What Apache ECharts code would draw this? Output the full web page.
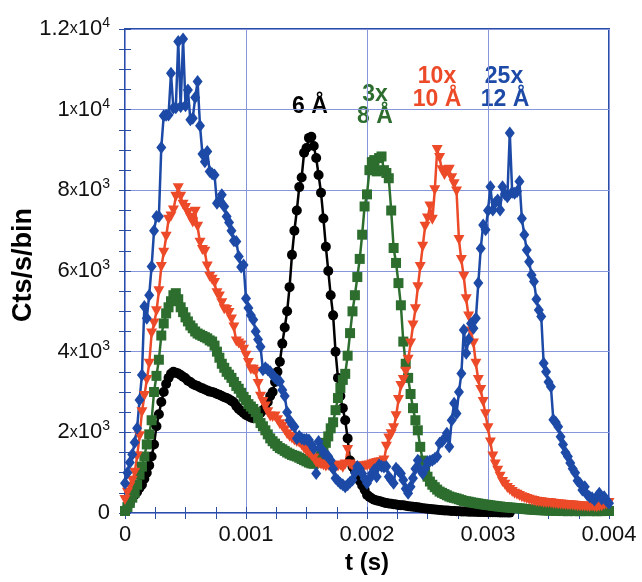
<!DOCTYPE html>
<html><head><meta charset="utf-8">
<script src="https://cdn.jsdelivr.net/npm/echarts@6/dist/echarts.min.js"></script>
<style>html,body{margin:0;padding:0;background:#fff}#c{width:642px;height:582px}</style>
</head><body><div id="c"></div>
<script>
// bin start times in microseconds
const T_US = [
0,20,40,60,80,100,120,140,160,180,
200,220,240,260,280,300,320,340,360,380,
400,420,440,460,480,500,520,540,560,580,
600,620,640,660,680,700,720,740,760,780,
800,820,840,860,880,900,920,940,960,980,
1000,1020,1040,1060,1080,1100,1120,1140,1160,1180,
1200,1220,1240,1260,1280,1300,1320,1340,1360,1380,
1400,1420,1440,1460,1480,1500,1520,1540,1560,1580,
1600,1620,1640,1660,1680,1700,1720,1740,1760,1780,
1800,1820,1840,1860,1880,1900,1920,1940,1960,1980,
2000,2020,2040,2060,2080,2100,2120,2140,2160,2180,
2200,2220,2240,2260,2280,2300,2320,2340,2360,2380,
2400,2420,2440,2460,2480,2500,2520,2540,2560,2580,
2600,2620,2640,2660,2680,2700,2720,2740,2760,2780,
2800,2820,2840,2860,2880,2900,2920,2940,2960,2980,
3000,3020,3040,3060,3080,3100,3120,3140,3160,3180,
3200,3220,3240,3260,3280,3300,3320,3340,3360,3380,
3400,3420,3440,3460,3480,3500,3520,3540,3560,3580,
3600,3620,3640,3660,3680,3700,3720,3740,3760,3780,
3800,3820,3840,3860,3880,3900,3920,3940,3960,3980,
4000];

// 6 Å (black)
const black6 = [
50,150,250,380,450,520,620,700,850,1000,
1180,1400,1700,2150,2450,2750,3000,3200,3350,3450,
3500,3480,3460,3420,3380,3340,3280,3250,3200,3170,
3150,3110,3090,3060,3040,3010,3000,2980,2950,2930,
2900,2870,2850,2820,2780,2740,2650,2580,2530,2480,
2430,2400,2370,2350,2380,2420,2480,2550,2600,2750,
2900,3000,3250,3500,3750,4200,4600,5000,5600,6400,
7000,7500,8080,8320,8930,9050,9300,9330,9100,8800,
8380,7940,7300,6600,6000,5400,4900,4000,3350,2900,
2600,2300,1850,1300,1150,1050,950,800,680,580,
450,400,360,330,310,300,280,260,245,235,
230,220,210,200,195,190,180,170,160,155,
150,140,130,120,110,105,100,90,85,80,
75,70,65,60,55,50,48,45,42,40,
38,36,34,32,30,28,26,25,24,22,
20,19,18,17,16,15,14,13,12,10];

// 3x 8 Å (green)
const green8 = [
50,150,250,380,500,700,950,1150,1400,1700,
1950,2300,3000,3400,3800,4400,4700,4950,5100,5250,
5400,5450,5300,5100,4980,4850,4750,4650,4580,4500,
4450,4420,4390,4360,4330,4280,4250,4150,4000,3850,
3700,3600,3500,3430,3350,3250,3150,3080,2980,2880,
2800,2700,2640,2580,2500,2350,2230,2150,2050,1950,
1850,1780,1720,1660,1610,1580,1540,1500,1470,1440,
1420,1400,1370,1340,1310,1280,1250,1230,1220,1250,
1300,1400,1550,1740,1900,2100,2250,2550,2850,3100,
3300,3450,3900,4460,5000,5400,5850,6300,6900,7600,
7900,8500,8700,8750,8470,8800,8840,8500,8430,8300,
7500,6570,6200,5700,5150,4250,3700,3350,2950,2600,
2300,2050,1640,1300,1050,900,780,700,640,580,
530,500,470,440,410,390,375,360,340,320,
300,290,280,265,255,245,235,225,215,205,
200,190,180,175,165,160,150,145,140,135,
130,125,120,115,110,100,95,90,85,80,
75,72,70,68,65,62,60,58,55,52,
50,48,55,45,50,52,47,50,45,52,
48,50,46,50,48,45,50,47,50,52,
50];

// 10x 10 Å (red)
const red10 = [
320,500,650,800,1000,1400,1900,2500,2900,3300,
3700,4450,4700,5000,5500,6100,6450,6850,7270,7350,
7500,7840,8050,7840,7640,7560,7440,7320,7200,7470,
7100,6700,6520,6480,6110,5860,5780,5700,5450,5370,
5200,5050,5030,4960,4800,4600,4250,4200,4150,4050,
3900,3720,3560,3550,3500,3200,2880,2750,2640,2500,
2390,2380,2390,2300,2200,2140,2050,1950,1890,1850,
1800,1760,1740,1680,1600,1530,1480,1420,1350,1250,
1220,1200,1180,1150,1170,1140,1160,1130,1150,1180,
1120,1200,1560,1200,1150,1100,1140,1160,1120,1150,
1170,1180,1200,1220,1240,1250,1260,1300,1640,1850,
1950,2100,2400,2800,3150,3300,3500,3800,4200,4650,
5050,5600,6100,6600,7100,7300,7600,7270,8000,9000,
8800,8500,8380,8470,8510,8300,8150,7970,6770,6270,
5860,5300,4870,4500,4200,3700,3300,3050,2750,2450,
2100,1750,1400,1200,1050,900,770,700,620,570,
520,480,450,420,390,370,350,330,310,295,
280,270,265,255,250,245,240,230,225,220,
210,205,200,195,190,185,180,170,165,160,
160,155,150,160,150,145,160,170,200,220,
250];

// 25x 12 Å (blue)
const blue12 = [
740,1000,1250,1450,1750,2100,2800,3420,5120,4830,
5400,6110,7000,7350,7350,9060,9850,9860,9870,10900,
10040,10050,11690,10080,11750,10100,10490,9750,9790,10300,
10700,9600,8900,8710,8960,8470,8410,8380,7680,7750,
7890,7600,7350,7200,7000,6750,6730,6360,6100,6150,
5320,5080,4900,4790,4500,4300,4120,3550,3600,3550,
3500,3420,3350,3300,3260,3050,2900,2500,2300,2200,
2140,1850,1900,1850,1820,1830,1810,1690,1600,980,
1770,1600,1480,1450,1400,1300,1100,860,800,740,
700,650,700,760,820,1000,1150,1100,980,850,
740,850,980,1070,900,1190,1160,1140,1150,900,
820,740,1110,1050,980,820,600,490,650,860,
1100,1310,1070,980,1100,1270,1290,1310,1350,1400,
1730,1770,1850,1980,1640,2300,2720,2470,3000,3460,
4540,3960,4300,4700,4580,4830,5700,6560,7140,7020,
7500,8090,7510,7700,7760,7510,8090,7900,7840,9420,
7950,7930,7970,8220,7300,6900,6520,6230,5900,5740,
5300,5030,4870,3710,3500,3250,3130,2310,2250,2140,
1890,1700,1500,1400,1240,1100,1000,800,740,570,
650,450,400,380,320,400,490,350,400,300,
240];

const X_TICKS = [0, 0.001, 0.002, 0.003, 0.004];
const Y_TICK_LABELS = {0:'0', 2000:'2x10|3', 4000:'4x10|3', 6000:'6x10|3', 8000:'8x10|3', 10000:'1x10|4', 12000:'1.2x10|4'};

const FRAME = '#2a4ea3';
const GRIDC = '#8795da';
const FONT = '"Liberation Sans", Arial, Helvetica, sans-serif';

function pts(vals){ return vals.map((v,i)=>[T_US[i]/1e6, v]); }

function yFmt(v){
  const s = Y_TICK_LABELS[Math.round(v)];
  if (s === undefined) return '';
  if (s === '0') return '{m|0}';
  const [base, exp] = s.split('|');
  const mant = base.slice(0, base.indexOf('x'));
  return '{m|' + mant + '}{x|x}{m|10}{s|' + exp + '}';
}

const chart = echarts.init(document.getElementById('c'), null, {renderer:'canvas'});

const axCommon = {
  axisLine:{show:false},
  axisTick:{show:true, inside:true, length:6, lineStyle:{color:FRAME, width:1}},
  minorTick:{show:true, splitNumber:4, length:6, lineStyle:{color:FRAME, width:1}},
};

function mkSeries(name, vals, color, symbol, size, rotate){
  return {
    name, type:'line', data: pts(vals), symbol, symbolSize: size, symbolRotate: rotate||0,
    showAllSymbol:true, clip:false, animation:false,
    lineStyle:{color, width:2.5}, itemStyle:{color, borderWidth:0}
  };
}

chart.setOption({
  animation:false,
  backgroundColor:'#fff',
  grid:{left:125, top:29, right:33, bottom:69, show:true, borderColor:FRAME, borderWidth:2, backgroundColor:'rgba(0,0,0,0)'},
  xAxis:[
    Object.assign({type:'value', min:0, max:0.004, interval:0.001, position:'bottom',
      splitLine:{show:true, lineStyle:{color:GRIDC, width:1}},
      axisLabel:{fontSize:22, color:'#111', margin:11, fontFamily:FONT,
        formatter:v=>{ const r = X_TICKS.find(t=>Math.abs(t-v)<1e-9); return r===undefined?'':String(r); }}
    }, axCommon),
    Object.assign({type:'value', min:0, max:0.004, interval:0.001, position:'top',
      splitLine:{show:false}, axisLabel:{show:false}}, axCommon)
  ],
  yAxis:[
    Object.assign({type:'value', min:0, max:12000, interval:2000, position:'left',
      splitLine:{show:true, lineStyle:{color:GRIDC, width:1}},
      axisLabel:{margin:15, color:'#111', formatter:yFmt,
        rich:{
          m:{fontSize:22, fontFamily:FONT, color:'#111', lineHeight:26},
          x:{fontSize:16, fontFamily:FONT, color:'#111', lineHeight:26},
          s:{fontSize:14, fontFamily:FONT, color:'#111', lineHeight:14, verticalAlign:'top'}
        }}
    }, axCommon),
    Object.assign({type:'value', min:0, max:12000, interval:2000, position:'right',
      splitLine:{show:false}, axisLabel:{show:false}}, axCommon)
  ],
  series:[
    mkSeries('6 Å', black6, '#000000', 'circle', 10),
    mkSeries('3x 8 Å', green8, '#2d6e2f', 'rect', 10),
    mkSeries('10x 10 Å', red10, '#ec4a28', 'triangle', [11,10], 180),
    mkSeries('25x 12 Å', blue12, '#1c4aa6', 'diamond', [10,13])
  ],
  graphic:[
    {type:'text', x:310, y:107, style:{text:'6 Å', fill:'#000', font:'bold 23px '+FONT, align:'center', verticalAlign:'middle'}},
    {type:'text', x:375, y:95, style:{text:'3x', fill:'#2d6e2f', font:'bold 23px '+FONT, align:'center', verticalAlign:'middle'}},
    {type:'text', x:375, y:117, style:{text:'8 Å', fill:'#2d6e2f', font:'bold 23px '+FONT, align:'center', verticalAlign:'middle'}},
    {type:'text', x:437, y:77, style:{text:'10x', fill:'#ec4a28', font:'bold 23px '+FONT, align:'center', verticalAlign:'middle'}},
    {type:'text', x:437, y:100, style:{text:'10 Å', fill:'#ec4a28', font:'bold 23px '+FONT, align:'center', verticalAlign:'middle'}},
    {type:'text', x:504, y:77, style:{text:'25x', fill:'#1c4aa6', font:'bold 23px '+FONT, align:'center', verticalAlign:'middle'}},
    {type:'text', x:505, y:100, style:{text:'12 Å', fill:'#1c4aa6', font:'bold 23px '+FONT, align:'center', verticalAlign:'middle'}},
    {type:'text', x:24, y:265, rotation:Math.PI/2, style:{text:'Cts/s/bin', fill:'#000', font:'bold 27px '+FONT, align:'center', verticalAlign:'middle'}},
    {type:'text', x:367, y:563, style:{text:'t (s)', fill:'#000', font:'bold 24px '+FONT, align:'center', verticalAlign:'middle'}}
  ]
});
</script></body></html>
